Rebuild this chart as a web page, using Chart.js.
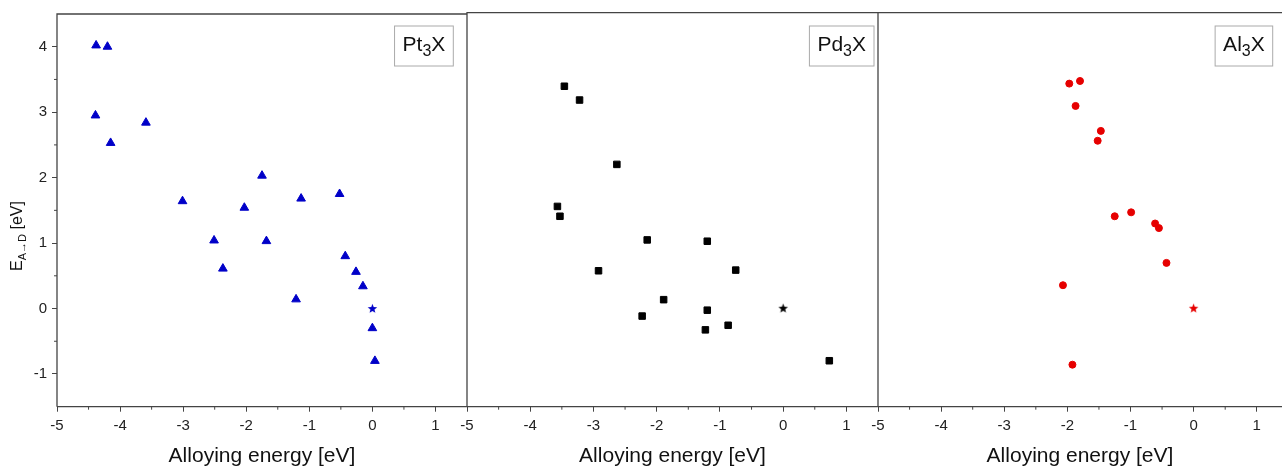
<!DOCTYPE html>
<html>
<head>
<meta charset="utf-8">
<script src="https://cdn.jsdelivr.net/npm/chart.js@4.4.1/dist/chart.umd.min.js"></script>
<style>
  body { margin: 0; background: #fff; }
  #wrap { position: relative; width: 1282px; height: 469px; overflow: hidden; }
  #wrap canvas { position: absolute; top: 0; }
</style>
</head>
<body>
<div id="wrap">
  <canvas id="ptChart" width="490" height="469" style="left:0px"></canvas>
  <canvas id="pdChart" width="490" height="469" style="left:420px"></canvas>
  <canvas id="alChart" width="452" height="469" style="left:830px"></canvas>
</div>
<script>
// Pt3X (blue triangles)
const ptX = [-4.38, -4.20, -4.39, -4.15, -3.59, -3.01, -1.75, -2.03, -1.13, -0.52, -2.51, -1.68, -2.37, -1.21, -0.43, -0.26, -0.15, 0.00, 0.04];
const ptY = [4.02, 4.00, 2.95, 2.53, 2.84, 1.64, 2.03, 1.54, 1.68, 1.75, 1.04, 1.03, 0.61, 0.14, 0.80, 0.56, 0.34, -0.30, -0.80];

// Pd3X (black squares)
const pdX = [-3.46, -3.22, -2.63, -3.57, -3.53, -2.15, -1.20, -2.92, -0.75, -1.89, -1.20, -2.23, -0.87, -1.23, 0.73];
const pdY = [3.38, 3.17, 2.19, 1.55, 1.40, 1.04, 1.02, 0.57, 0.58, 0.13, -0.03, -0.12, -0.26, -0.33, -0.80];

// Al3X (red circles)
const alX = [-1.97, -1.80, -1.87, -1.47, -1.52, -1.25, -0.99, -0.61, -0.55, -0.43, -2.07, -1.92];
const alY = [3.42, 3.46, 3.08, 2.70, 2.55, 1.40, 1.46, 1.29, 1.22, 0.69, 0.35, -0.86];

// reference point (star) in every panel
const refX = [0];
const refY = [0];

const xTicks = [-5, -4, -3, -2, -1, 0, 1];
const xMinor = [-4.5, -3.5, -2.5, -1.5, -0.5, 0.5];
const yTicks = [-1, 0, 1, 2, 3, 4];
const yMinor = [-0.5, 0.5, 1.5, 2.5, 3.5];

const xTitle = 'Alloying energy [eV]';
const FONT = '"Liberation Sans", Arial, Helvetica, sans-serif';

function toPoints(xs, ys) {
    return xs.map((x, i) => ({ x: x, y: ys[i] }));
}

function starImage(color) {
    const c = document.createElement('canvas');
    c.width = 11; c.height = 11;
    const g = c.getContext('2d');
    g.fillStyle = color;
    g.beginPath();
    for (let i = 0; i < 10; i++) {
        const r = i % 2 ? 2.1 : 5;
        const a = -Math.PI / 2 + i * Math.PI / 5;
        g.lineTo(5.5 + r * Math.cos(a), 5.8 + r * Math.sin(a));
    }
    g.closePath();
    g.fill();
    return c;
}

// frame, minor ticks, titles and the compound label box
const panelDeco = {
    id: 'panelDeco',
    afterDraw(chart, args, o) {
        const ctx = chart.ctx, a = chart.chartArea;
        const xs = chart.scales.x, ys = chart.scales.y;
        ctx.save();
        ctx.strokeStyle = '#444';
        ctx.lineWidth = 1.3;
        ctx.beginPath();
        ctx.moveTo(a.left, a.bottom); ctx.lineTo(a.left, a.top); ctx.lineTo(a.right, a.top);
        ctx.moveTo(a.left, a.bottom); ctx.lineTo(a.right, a.bottom);
        ctx.stroke();

        ctx.lineWidth = 1;
        ctx.beginPath();
        xMinor.forEach(v => {
            const p = xs.getPixelForValue(v);
            ctx.moveTo(p, a.bottom); ctx.lineTo(p, a.bottom + 3);
        });
        if (o.showY) {
            yMinor.forEach(v => {
                const p = ys.getPixelForValue(v);
                ctx.moveTo(a.left, p); ctx.lineTo(a.left - 3, p);
            });
        }
        ctx.stroke();

        // x title
        ctx.fillStyle = '#111';
        ctx.font = '21px ' + FONT;
        ctx.textAlign = 'center';
        ctx.textBaseline = 'alphabetic';
        ctx.fillText(xTitle, (a.left + a.right) / 2, 462);

        // label box, e.g. Pt3X with subscript
        ctx.textAlign = 'left';
        ctx.font = '21px ' + FONT;
        const w1 = ctx.measureText(o.label[0]).width;
        const w3 = ctx.measureText(o.label[2]).width;
        ctx.font = '16px ' + FONT;
        const w2 = ctx.measureText(o.label[1]).width;
        const boxW = w1 + w2 + w3 + 16;
        const boxL = o.boxRight - boxW;
        ctx.strokeStyle = '#aaa';
        ctx.lineWidth = 1;
        ctx.strokeRect(boxL, 26, boxW, 40);
        ctx.font = '21px ' + FONT;
        ctx.fillText(o.label[0], boxL + 8, 51);
        ctx.fillText(o.label[2], boxL + 8 + w1 + w2, 51);
        ctx.font = '16px ' + FONT;
        ctx.fillText(o.label[1], boxL + 8 + w1, 56);

        // y title E_{A->D} [eV]
        if (o.showY) {
            ctx.translate(22, 236);
            ctx.rotate(-Math.PI / 2);
            ctx.font = '16px ' + FONT;
            const e = ctx.measureText('E').width;
            const rest = ctx.measureText(' [eV]').width;
            ctx.font = '11px ' + FONT;
            const sub = ctx.measureText('A\u2192D').width;
            let x0 = -(e + sub + rest) / 2;
            ctx.font = '16px ' + FONT;
            ctx.fillText('E', x0, 0);
            ctx.fillText(' [eV]', x0 + e + sub, 0);
            ctx.font = '11px ' + FONT;
            ctx.fillText('A\u2192D', x0 + e, 4);
        }
        ctx.restore();
    }
};

function makePanel(cfg) {
    const ctx = document.getElementById(cfg.id).getContext('2d');
    return new Chart(ctx, {
        type: 'scatter',
        data: {
            datasets: [
                {
                    data: toPoints(cfg.xs, cfg.ys),
                    pointStyle: cfg.style,
                    pointRadius: cfg.radius,
                    backgroundColor: cfg.color,
                    borderColor: cfg.color,
                    borderWidth: 1
                },
                {
                    data: toPoints(refX, refY),
                    pointStyle: starImage(cfg.color),
                    pointRadius: 5
                }
            ]
        },
        options: {
            responsive: false,
            animation: false,
            events: [],
            layout: { autoPadding: false, padding: { left: cfg.padL, right: cfg.padR, top: 12.7, bottom: 0 } },
            plugins: {
                legend: { display: false },
                tooltip: { enabled: false },
                panelDeco: { label: cfg.label, boxRight: cfg.boxRight, showY: cfg.showY }
            },
            scales: {
                x: {
                    type: 'linear',
                    min: -5,
                    max: cfg.xMax,
                    afterBuildTicks: s => { s.ticks = xTicks.map(v => ({ value: v })); },
                    afterFit: s => { s.height = 62.3; },
                    border: { display: false },
                    grid: { drawOnChartArea: false, drawTicks: true, tickLength: 5, color: '#444' },
                    ticks: { color: '#222', padding: 5, font: { family: FONT, size: 15 }, maxRotation: 0 }
                },
                y: {
                    type: 'linear',
                    display: cfg.showY,
                    min: -1.5,
                    max: 4.5,
                    afterBuildTicks: s => { s.ticks = yTicks.map(v => ({ value: v })); },
                    afterFit: s => { s.width = cfg.showY ? 57 : 0; },
                    border: { display: false },
                    grid: { drawOnChartArea: false, drawTicks: true, tickLength: 5, color: '#444' },
                    ticks: { color: '#222', padding: 5, font: { family: FONT, size: 15 } }
                }
            }
        },
        plugins: [panelDeco]
    });
}

document.addEventListener('DOMContentLoaded', function () {
    makePanel({ id: 'ptChart', xs: ptX, ys: ptY, style: 'triangle', radius: 5, color: '#0000c8',
        label: ['Pt', '3', 'X'], boxRight: 453.3, xMax: 1.5, padL: 0, padR: 23, showY: true });
    makePanel({ id: 'pdChart', xs: pdX, ys: pdY, style: 'rect', radius: 4.6, color: '#000000',
        label: ['Pd', '3', 'X'], boxRight: 454, xMax: 1.5, padL: 47, padR: 32, showY: false });
    makePanel({ id: 'alChart', xs: alX, ys: alY, style: 'circle', radius: 3.5, color: '#e60000',
        label: ['Al', '3', 'X'], boxRight: 442.7, xMax: 1.4, padL: 48, padR: 0, showY: false });
});
</script>
</body>
</html>
